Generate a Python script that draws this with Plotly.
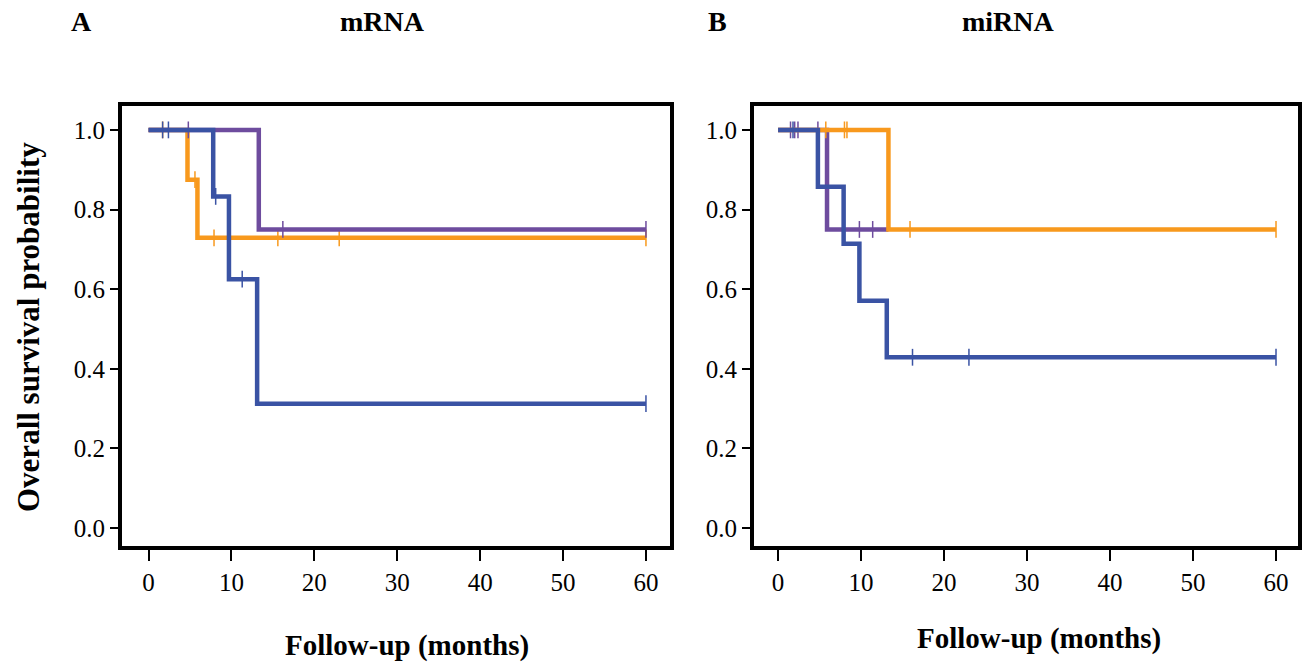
import plotly.graph_objects as go

# colours of the three groups
BLUE = '#3A53A4'
ORANGE = '#F8991D'
PURPLE = '#6E4C9E'

# ---- panel A (mRNA): step curves (event times / survival) and censor marks
a_blue_t = [0, 7.8, 9.7, 13.1, 60]
a_blue_s = [1.0, 0.833, 0.625, 0.3125, 0.3125]
a_blue_ct = [1.7, 2.4, 8.1, 11.3, 60]
a_blue_cs = [1.0, 1.0, 0.833, 0.625, 0.3125]

a_orange_t = [0, 4.7, 5.9, 60]
a_orange_s = [1.0, 0.875, 0.729, 0.729]
a_orange_ct = [1.7, 5.6, 7.9, 9.7, 15.6, 23.0, 60]
a_orange_cs = [1.0, 0.875, 0.729, 0.729, 0.729, 0.729, 0.729]

a_purple_t = [0, 13.3, 60]
a_purple_s = [1.0, 0.75, 0.75]
a_purple_ct = [4.8, 16.2, 60]
a_purple_cs = [1.0, 0.75, 0.75]

# ---- panel B (miRNA)
b_blue_t = [0, 4.8, 7.9, 9.8, 13.1, 60]
b_blue_s = [1.0, 0.857, 0.714, 0.571, 0.429, 0.429]
b_blue_ct = [1.8, 16.2, 23.0, 60]
b_blue_cs = [1.0, 0.429, 0.429, 0.429]

b_orange_t = [0, 13.3, 60]
b_orange_s = [1.0, 0.75, 0.75]
b_orange_ct = [5.75, 8.0, 8.3, 15.9, 60]
b_orange_cs = [1.0, 1.0, 1.0, 0.75, 0.75]

b_purple_t = [0, 5.9, 13.3]
b_purple_s = [1.0, 0.75, 0.75]
b_purple_ct = [1.5, 2.0, 2.4, 4.8, 9.8, 11.4]
b_purple_cs = [1.0, 1.0, 1.0, 1.0, 0.75, 0.75]

x_ticks = [0, 10, 20, 30, 40, 50, 60]
y_ticks = [0.0, 0.2, 0.4, 0.6, 0.8, 1.0]
y_ticktext = ['0.0', '0.2', '0.4', '0.6', '0.8', '1.0']

SERIF = 'Liberation Serif'

fig = go.Figure()


def add_km(t, s, ct, cs, color, xa, ya):
    # survival curve drawn as steps
    fig.add_trace(go.Scatter(x=t, y=s, mode='lines', line=dict(color=color, width=4.5, shape='hv'),
                             xaxis=xa, yaxis=ya, showlegend=False, hoverinfo='skip'))
    # censored cases
    fig.add_trace(go.Scatter(x=ct, y=cs, mode='markers',
                             marker=dict(symbol='line-ns', size=12, line=dict(color=color, width=1.5)),
                             xaxis=xa, yaxis=ya, showlegend=False, hoverinfo='skip'))


# panel A layering: orange, purple, blue
add_km(a_orange_t, a_orange_s, a_orange_ct, a_orange_cs, ORANGE, 'x', 'y')
add_km(a_purple_t, a_purple_s, a_purple_ct, a_purple_cs, PURPLE, 'x', 'y')
add_km(a_blue_t, a_blue_s, a_blue_ct, a_blue_cs, BLUE, 'x', 'y')

# panel B layering: purple, orange, blue
add_km(b_purple_t, b_purple_s, b_purple_ct, b_purple_cs, PURPLE, 'x2', 'y2')
add_km(b_orange_t, b_orange_s, b_orange_ct, b_orange_cs, ORANGE, 'x2', 'y2')
add_km(b_blue_t, b_blue_s, b_blue_ct, b_blue_cs, BLUE, 'x2', 'y2')

W, H = 1308, 665

xax = dict(showline=True, linecolor='black', linewidth=4, mirror=True,
           ticks='outside', ticklen=11, tickwidth=2, tickcolor='black',
           tickvals=x_ticks, showgrid=False, zeroline=False,
           tickfont=dict(family=SERIF, size=25, color='black'))
yax = dict(showline=True, linecolor='black', linewidth=4, mirror=True,
           ticks='outside', ticklen=8, tickwidth=2, tickcolor='black',
           tickvals=y_ticks, ticktext=y_ticktext, showgrid=False, zeroline=False,
           range=[-0.045, 1.06], domain=[1 - 546 / H, 1 - 106 / H],
           tickfont=dict(family=SERIF, size=25, color='black'))

fig.update_layout(
    width=W, height=H,
    margin=dict(l=0, r=0, t=0, b=0),
    paper_bgcolor='white', plot_bgcolor='white',
    xaxis=dict(xax, domain=[122 / W, 670 / W], range=[-3.2, 62.9], anchor='y'),
    yaxis=dict(yax, anchor='x'),
    xaxis2=dict(xax, domain=[754 / W, 1298 / W], range=[-2.9, 62.65], anchor='y2'),
    yaxis2=dict(yax, anchor='x2'),
)

bold = dict(family=SERIF, size=28, color='black')
labels = [
    ('<b>A</b>', 82, 22, 0, 28),
    ('<b>mRNA</b>', 382, 22, 0, 28),
    ('<b>B</b>', 717, 22, 0, 28),
    ('<b>miRNA</b>', 1008, 22, 0, 28),
    ('<b>Follow-up (months)</b>', 407, 645, 0, 29),
    ('<b>Follow-up (months)</b>', 1039, 638, 0, 29),
    ('<b>Overall survival probability</b>', 28, 327, -90, 31),
]
for txt, px, py, ang, fs in labels:
    fig.add_annotation(text=txt, x=px / W, y=1 - py / H, xref='paper', yref='paper',
                       showarrow=False, xanchor='center', yanchor='middle',
                       textangle=ang, font=dict(bold, size=fs))

fig.write_html("out.html", config={'displayModeBar': False},
               post_script="document.body.style.margin='0px';")
